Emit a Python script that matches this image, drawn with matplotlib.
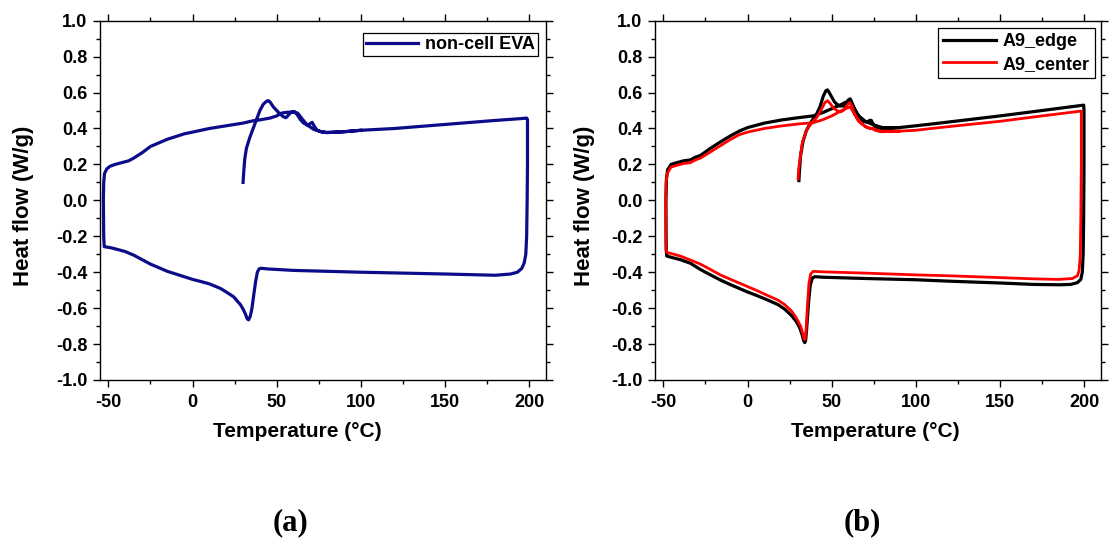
import matplotlib
matplotlib.use("Agg")
import matplotlib.pyplot as plt
from matplotlib.ticker import MultipleLocator

# ---------------- data ----------------
# (a) non-cell EVA : heat -> cool -> heat loop (temperature, heat flow)
eva_T = [30.0, 30.2, 30.5, 31, 32, 34, 36, 38, 40, 42, 44, 45, 46, 48, 50, 52, 54, 55.5,
         57, 58.5, 60.5, 62, 64, 66, 68, 69.5, 71, 72.5, 74, 77, 80, 90, 100, 120, 140,
         160, 180, 195, 198.5,
         199, 199, 198.8, 198.5, 198, 197, 195.5, 193, 189, 180, 150, 100, 60, 45, 40.5,
         39.5, 38.5, 37.5, 36.3, 35.3, 34.3, 33.3, 32.5, 31.5, 30, 28.4, 26.5, 24.4, 20,
         16.5, 10, 5, 0, -5, -10, -15, -20, -25, -30, -35, -40, -44, -48, -51, -52.5,
         -52.8, -53, -52.8, -52.3, -51, -49, -46, -42, -38, -35, -30, -25, -20, -15, -10,
         -5, 0, 10, 20, 30, 36, 40, 46, 50, 53, 56, 60, 62.5, 65, 68, 72, 76, 80, 90, 100]
eva_HF = [0.10, 0.13, 0.17, 0.23, 0.29, 0.35, 0.40, 0.45, 0.50, 0.535, 0.552, 0.555, 0.548,
          0.52, 0.50, 0.48, 0.465, 0.46, 0.475, 0.49, 0.494, 0.48, 0.45, 0.43, 0.42, 0.425,
          0.434, 0.41, 0.39, 0.38, 0.377, 0.382, 0.39, 0.40, 0.415, 0.43, 0.445, 0.455, 0.458,
          0.45, 0.20, 0.0, -0.20, -0.30, -0.35, -0.38, -0.40, -0.41, -0.417, -0.41, -0.40,
          -0.39, -0.382, -0.378,
          -0.382, -0.40, -0.45, -0.53, -0.60, -0.645, -0.665, -0.66, -0.635, -0.605, -0.58,
          -0.56, -0.537, -0.51, -0.49, -0.465, -0.452, -0.44, -0.425, -0.41, -0.395, -0.375,
          -0.355, -0.33, -0.305, -0.285, -0.275, -0.265, -0.26, -0.258,
          -0.20, 0.0, 0.10, 0.15, 0.175, 0.19, 0.20, 0.21, 0.22, 0.235, 0.265, 0.30, 0.32,
          0.34, 0.355, 0.37, 0.38, 0.40, 0.415, 0.43, 0.443, 0.448, 0.458, 0.47, 0.486,
          0.49, 0.492, 0.485, 0.455, 0.42, 0.395, 0.383, 0.378, 0.382, 0.39]

# (b) A9_edge
edge_T = [30.5, 30.8, 31.5, 33, 35, 38, 41, 43, 45, 46.5, 47.5, 48.5, 50, 51.5, 53, 55, 57,
          58.5, 60, 61, 62, 63.5, 65, 67, 69, 71, 72.5, 73.5, 74.5, 76, 78, 82, 90, 100, 114,
          150, 175, 199.7,
          199.9, 199.9, 199.7, 199.4, 198.9, 198, 196, 192, 185, 170, 150, 120, 100, 70,
          45, 40, 38.5, 37.3, 36.4, 35.6, 35, 34.5, 34, 33.3, 32.5, 31, 29, 26, 22, 18, 12, 5,
          0, -5, -10, -16, -22, -28, -34, -40, -45, -48, -48.3,
          -48.4, -48.5, -48.2, -47.5, -45.5, -42, -38, -34, -31, -28, -22, -16, -10, -5, 0,
          10, 20, 30, 39, 45, 50, 55, 58, 61, 63, 66, 70, 75, 80, 90]
edge_HF = [0.11, 0.16, 0.25, 0.33, 0.39, 0.44, 0.48, 0.52, 0.58, 0.61, 0.615, 0.60, 0.575,
           0.55, 0.535, 0.525, 0.525, 0.54, 0.56, 0.565, 0.545, 0.505, 0.48, 0.455, 0.44,
           0.435, 0.445, 0.445, 0.425, 0.41, 0.40, 0.398, 0.405, 0.415, 0.43, 0.47, 0.50, 0.53,
           0.50, 0.20, -0.10, -0.30, -0.40, -0.44, -0.458, -0.468, -0.47, -0.468, -0.46,
           -0.45, -0.442, -0.435, -0.428, -0.425,
           -0.432, -0.47, -0.55, -0.65, -0.73, -0.78, -0.792, -0.78, -0.75, -0.71, -0.675,
           -0.64, -0.605, -0.58, -0.555, -0.528, -0.51, -0.49, -0.47, -0.444, -0.415, -0.385,
           -0.35, -0.33, -0.318, -0.31, -0.28,
           -0.20, 0.0, 0.12, 0.17, 0.20, 0.21, 0.22, 0.225, 0.24, 0.25, 0.29, 0.326, 0.36,
           0.385, 0.405, 0.43, 0.447, 0.46, 0.47, 0.49, 0.51, 0.53, 0.545, 0.55, 0.52, 0.47,
           0.44, 0.42, 0.405, 0.405]

# (b) A9_center
center_T = [30.0, 30.3, 31, 32.5, 35, 38, 41, 43.5, 46, 47.5, 49, 51, 53, 55.5, 57.5, 59.5,
            60.8, 62, 63.5, 65.5, 68, 71, 73, 74.5, 76, 79, 85, 100, 114, 150, 175, 198.3,
            198.3, 198.3, 198, 197.7, 197, 196, 193, 185, 170, 150, 120, 100, 70, 45, 39,
            37.5, 36.5, 35.8, 35.2, 34.7, 34.2, 33.6, 32.8, 31.5, 29, 26, 22, 18, 12, 5, 0,
            -5, -10, -16, -22, -28, -34, -40, -45, -48, -48.5,
            -48.6, -48.7, -48.4, -47.7, -45.5, -42, -38, -34, -31, -28, -22, -16, -10, -5,
            0, 10, 20, 30, 39, 45, 50, 55, 58, 61, 63, 66, 70, 75, 80, 90]
center_HF = [0.12, 0.17, 0.22, 0.32, 0.39, 0.43, 0.46, 0.50, 0.545, 0.555, 0.54, 0.515, 0.50,
             0.493, 0.505, 0.535, 0.545, 0.525, 0.48, 0.45, 0.425, 0.405, 0.40, 0.402, 0.39,
             0.382, 0.383, 0.39, 0.405, 0.44, 0.47, 0.497,
             0.47, 0.20, -0.10, -0.30, -0.39, -0.42, -0.435, -0.44, -0.437, -0.43, -0.42,
             -0.415, -0.405, -0.398, -0.395,
             -0.41, -0.46, -0.55, -0.65, -0.73, -0.775, -0.77, -0.74, -0.70, -0.655, -0.615,
             -0.58, -0.555, -0.53, -0.50, -0.48, -0.46, -0.44, -0.416, -0.385, -0.355,
             -0.332, -0.31, -0.297, -0.29, -0.27,
             -0.20, 0.0, 0.10, 0.15, 0.185, 0.195, 0.205, 0.21, 0.225, 0.235, 0.27, 0.305,
             0.34, 0.365, 0.38, 0.40, 0.414, 0.425, 0.432, 0.45, 0.47, 0.495, 0.51, 0.52,
             0.49, 0.44, 0.41, 0.395, 0.385, 0.385]

x_ticks = [-50, 0, 50, 100, 150, 200]
y_ticks = [-1.0, -0.8, -0.6, -0.4, -0.2, 0.0, 0.2, 0.4, 0.6, 0.8, 1.0]
x_label = "Temperature (°C)"
y_label = "Heat flow (W/g)"
panel_labels = ["(a)", "(b)"]

# ---------------- figure ----------------
plt.rcParams['font.family'] = ['Liberation Sans', 'DejaVu Sans']
plt.rcParams['font.weight'] = 'bold'

fig = plt.figure(figsize=(11.1, 5.45), dpi=100)
ax1 = fig.add_axes([100/1110, 1-380/545, 446/1110, 359.3/545])
ax2 = fig.add_axes([655/1110, 1-380/545, 446/1110, 359.3/545])


def style(ax, xlab_x, ylab_x):
    ax.set_xlim(-55, 210)
    ax.set_ylim(-1.0, 1.0)
    ax.set_xticks(x_ticks)
    ax.set_yticks(y_ticks)
    ax.set_xticklabels([str(t) for t in x_ticks])
    ax.set_yticklabels([f"{t:.1f}" for t in y_ticks])
    ax.xaxis.set_minor_locator(MultipleLocator(25))
    ax.yaxis.set_minor_locator(MultipleLocator(0.1))
    ax.tick_params(which='both', direction='out', top=True, right=True,
                   labeltop=False, labelright=False, width=1.0, colors='black')
    ax.tick_params(which='major', length=5, labelsize=13)
    ax.tick_params(axis='x', which='major', pad=5)
    ax.tick_params(axis='y', which='major', pad=4)
    ax.tick_params(which='minor', length=3)
    for lab in ax.get_xticklabels() + ax.get_yticklabels():
        lab.set_fontweight('bold')
    for s in ax.spines.values():
        s.set_linewidth(1.0)
    ax.set_xlabel(x_label, fontsize=15, fontweight='bold')
    ax.set_ylabel(y_label, fontsize=16, fontweight='bold')
    ax.xaxis.set_label_coords(xlab_x, -0.118)
    ax.yaxis.set_label_coords(ylab_x, 0.486)


ax1.plot(eva_T, eva_HF, color='#0c0c8a', lw=2.3, solid_joinstyle='round',
         label='non-cell EVA')
style(ax1, 0.442, -0.148)
leg1 = ax1.legend(loc='upper right', bbox_to_anchor=(0.99, 0.975), fancybox=False,
                  edgecolor='black', framealpha=1, handlelength=2.9,
                  prop={'weight': 'bold', 'size': 13}, borderpad=0.15,
                  handletextpad=0.4, borderaxespad=0.2)
leg1.get_frame().set_linewidth(0.9)

ax2.plot(edge_T, edge_HF, color='black', lw=2.3, solid_joinstyle='round', label='A9_edge')
ax2.plot(center_T, center_HF, color='#ff0000', lw=2.0, solid_joinstyle='round',
         label='A9_center')
style(ax2, 0.493, -0.135)
leg2 = ax2.legend(loc='upper right', bbox_to_anchor=(0.995, 0.99), fancybox=False,
                  edgecolor='black', framealpha=1, handlelength=2.9,
                  prop={'weight': 'bold', 'size': 13}, borderpad=0.3,
                  handletextpad=0.4, labelspacing=0.3, borderaxespad=0.2)
leg2.get_frame().set_linewidth(0.9)

fig.text(290/1110, 1-523/545, panel_labels[0], ha='center', va='center',
         fontsize=22, fontweight='bold', family=['Liberation Serif', 'DejaVu Serif'])
fig.text(862/1110, 1-523/545, panel_labels[1], ha='center', va='center',
         fontsize=22, fontweight='bold', family=['Liberation Serif', 'DejaVu Serif'])

fig.savefig('out.png', dpi=100)
